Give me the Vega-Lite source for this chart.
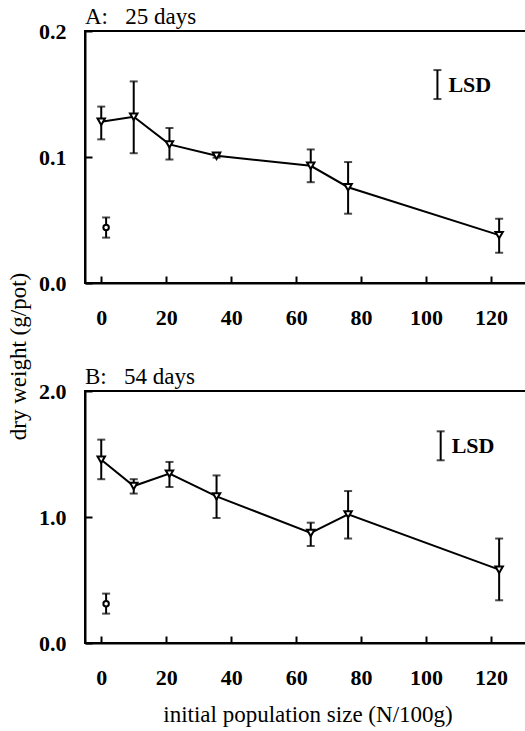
{
  "$schema": "https://vega.github.io/schema/vega-lite/v6.json",
  "padding": {"left": 6, "top": 5, "right": 0, "bottom": 0},
  "bounds": "flush",
  "spacing": 108,
  "background": "white",
  "config": {
    "font": "Liberation Serif",
    "view": {"stroke": "black", "strokeWidth": 2},
    "axis": {"domainColor": "black", "domainWidth": 2, "tickColor": "black", "tickWidth": 2, "tickSize": -7, "grid": false,
      "labelFont": "Liberation Serif", "labelFontSize": 22, "labelFontWeight": "bold", "labelColor": "black",
      "titleFont": "Liberation Serif", "titleFontSize": 23, "titleFontWeight": "normal", "titleColor": "black"},
    "axisX": {"labelPadding": 31},
    "axisY": {"labelPadding": 26},
    "title": {"font": "Liberation Serif", "fontSize": 23, "fontWeight": "normal", "anchor": "start", "frame": "group", "color": "black", "offset": -9}
  },
  "datasets": {
    "d": [
      {"panel": "A", "kind": "t", "x": 0, "y": 0.128, "lo": 0.114, "hi": 0.140},
      {"panel": "A", "kind": "t", "x": 10, "y": 0.132, "lo": 0.103, "hi": 0.160},
      {"panel": "A", "kind": "t", "x": 21, "y": 0.110, "lo": 0.098, "hi": 0.123},
      {"panel": "A", "kind": "t", "x": 35.5, "y": 0.101, "lo": 0.0995, "hi": 0.1025},
      {"panel": "A", "kind": "t", "x": 64.5, "y": 0.093, "lo": 0.080, "hi": 0.106},
      {"panel": "A", "kind": "t", "x": 76, "y": 0.076, "lo": 0.055, "hi": 0.096},
      {"panel": "A", "kind": "t", "x": 122.5, "y": 0.038, "lo": 0.024, "hi": 0.051},
      {"panel": "A", "kind": "c", "x": 1.5, "y": 0.044, "lo": 0.036, "hi": 0.052},
      {"panel": "A", "kind": "lsd", "x": 103.5, "y": 0.1575, "lo": 0.146, "hi": 0.169},
      {"panel": "B", "kind": "t", "x": 0, "y": 1.455, "lo": 1.30, "hi": 1.614},
      {"panel": "B", "kind": "t", "x": 10, "y": 1.246, "lo": 1.186, "hi": 1.30},
      {"panel": "B", "kind": "t", "x": 21, "y": 1.344, "lo": 1.238, "hi": 1.437},
      {"panel": "B", "kind": "t", "x": 35.5, "y": 1.164, "lo": 0.992, "hi": 1.33},
      {"panel": "B", "kind": "t", "x": 64.5, "y": 0.873, "lo": 0.77, "hi": 0.955},
      {"panel": "B", "kind": "t", "x": 76, "y": 1.021, "lo": 0.829, "hi": 1.206},
      {"panel": "B", "kind": "t", "x": 122.5, "y": 0.582, "lo": 0.339, "hi": 0.829},
      {"panel": "B", "kind": "c", "x": 1.5, "y": 0.312, "lo": 0.233, "hi": 0.392},
      {"panel": "B", "kind": "lsd", "x": 104.5, "y": 1.565, "lo": 1.45, "hi": 1.68}
    ]
  },
  "vconcat": [
    {
      "title": "A:\u00a0\u00a0 25 days",
      "width": 445, "height": 252,
      "data": {"name": "d"},
      "transform": [{"filter": "datum.panel == 'A'"}],
      "layer": [
        {
          "mark": {"type": "errorbar", "ticks": {"size": 8, "thickness": 2, "color": "black"}, "rule": {"strokeWidth": 2, "color": "black"}, "color": "black"},
          "encoding": {
            "x": {"field": "x", "type": "quantitative", "scale": {"domain": [-5, 132]}, "axis": {"values": [0, 20, 40, 60, 80, 100, 120], "title": null}},
            "y": {"field": "lo", "type": "quantitative", "scale": {"domain": [0, 0.2]}, "axis": {"values": [0, 0.1, 0.2], "format": ".1f", "title": "dry weight (g/pot)", "titleY": 325, "titlePadding": 8}},
            "y2": {"field": "hi"}
          }
        },
        {
          "transform": [{"filter": "datum.kind == 't'"}],
          "mark": {"type": "line", "color": "black", "strokeWidth": 2},
          "encoding": {
            "x": {"field": "x", "type": "quantitative", "scale": {"domain": [-5, 132]}},
            "y": {"field": "y", "type": "quantitative", "scale": {"domain": [0, 0.2]}}
          }
        },
        {
          "transform": [{"filter": "datum.kind == 't'"}],
          "mark": {"type": "point", "shape": "triangle-down", "size": 55, "filled": true, "fill": "white", "stroke": "black", "strokeWidth": 2, "opacity": 1},
          "encoding": {
            "x": {"field": "x", "type": "quantitative", "scale": {"domain": [-5, 132]}},
            "y": {"field": "y", "type": "quantitative", "scale": {"domain": [0, 0.2]}}
          }
        },
        {
          "transform": [{"filter": "datum.kind == 'c'"}],
          "mark": {"type": "point", "shape": "circle", "size": 30, "filled": true, "fill": "white", "stroke": "black", "strokeWidth": 2, "opacity": 1},
          "encoding": {
            "x": {"field": "x", "type": "quantitative", "scale": {"domain": [-5, 132]}},
            "y": {"field": "y", "type": "quantitative", "scale": {"domain": [0, 0.2]}}
          }
        },
        {
          "transform": [{"filter": "datum.kind == 'lsd'"}],
          "mark": {"type": "text", "text": "LSD", "align": "left", "baseline": "middle", "dx": 11, "font": "Liberation Serif", "fontSize": 22, "fontWeight": "bold", "color": "black"},
          "encoding": {
            "x": {"field": "x", "type": "quantitative", "scale": {"domain": [-5, 132]}},
            "y": {"field": "y", "type": "quantitative", "scale": {"domain": [0, 0.2]}}
          }
        }
      ]
    },
    {
      "title": "B:\u00a0\u00a0 54 days",
      "width": 445, "height": 252,
      "data": {"name": "d"},
      "transform": [{"filter": "datum.panel == 'B'"}],
      "layer": [
        {
          "mark": {"type": "errorbar", "ticks": {"size": 8, "thickness": 2, "color": "black"}, "rule": {"strokeWidth": 2, "color": "black"}, "color": "black"},
          "encoding": {
            "x": {"field": "x", "type": "quantitative", "scale": {"domain": [-5, 132]}, "axis": {"values": [0, 20, 40, 60, 80, 100, 120], "title": "initial population size (N/100g)", "titlePadding": 15}},
            "y": {"field": "lo", "type": "quantitative", "scale": {"domain": [0, 2]}, "axis": {"values": [0, 1, 2], "format": ".1f", "title": null}},
            "y2": {"field": "hi"}
          }
        },
        {
          "transform": [{"filter": "datum.kind == 't'"}],
          "mark": {"type": "line", "color": "black", "strokeWidth": 2},
          "encoding": {
            "x": {"field": "x", "type": "quantitative", "scale": {"domain": [-5, 132]}},
            "y": {"field": "y", "type": "quantitative", "scale": {"domain": [0, 2]}}
          }
        },
        {
          "transform": [{"filter": "datum.kind == 't'"}],
          "mark": {"type": "point", "shape": "triangle-down", "size": 55, "filled": true, "fill": "white", "stroke": "black", "strokeWidth": 2, "opacity": 1},
          "encoding": {
            "x": {"field": "x", "type": "quantitative", "scale": {"domain": [-5, 132]}},
            "y": {"field": "y", "type": "quantitative", "scale": {"domain": [0, 2]}}
          }
        },
        {
          "transform": [{"filter": "datum.kind == 'c'"}],
          "mark": {"type": "point", "shape": "circle", "size": 30, "filled": true, "fill": "white", "stroke": "black", "strokeWidth": 2, "opacity": 1},
          "encoding": {
            "x": {"field": "x", "type": "quantitative", "scale": {"domain": [-5, 132]}},
            "y": {"field": "y", "type": "quantitative", "scale": {"domain": [0, 2]}}
          }
        },
        {
          "transform": [{"filter": "datum.kind == 'lsd'"}],
          "mark": {"type": "text", "text": "LSD", "align": "left", "baseline": "middle", "dx": 11, "font": "Liberation Serif", "fontSize": 22, "fontWeight": "bold", "color": "black"},
          "encoding": {
            "x": {"field": "x", "type": "quantitative", "scale": {"domain": [-5, 132]}},
            "y": {"field": "y", "type": "quantitative", "scale": {"domain": [0, 2]}}
          }
        }
      ]
    }
  ]
}
